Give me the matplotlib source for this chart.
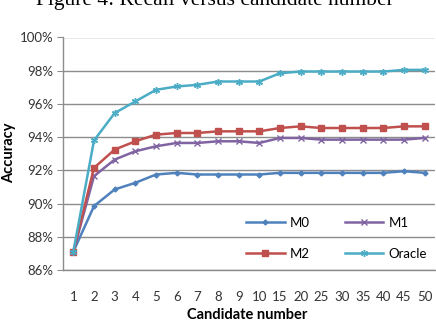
import matplotlib
matplotlib.use("Agg")
import matplotlib.pyplot as plt
from matplotlib.ticker import FuncFormatter

categories = ["1", "2", "3", "4", "5", "6", "7", "8", "9", "10",
              "15", "20", "25", "30", "35", "40", "45", "50"]
m0 = [87.1, 89.85, 90.85, 91.25, 91.75, 91.85, 91.75, 91.75, 91.75, 91.75,
      91.85, 91.85, 91.85, 91.85, 91.85, 91.85, 91.95, 91.85]
m1 = [87.1, 91.65, 92.65, 93.15, 93.45, 93.65, 93.65, 93.75, 93.75, 93.65,
      93.95, 93.95, 93.85, 93.85, 93.85, 93.85, 93.85, 93.95]
m2 = [87.1, 92.15, 93.25, 93.75, 94.15, 94.25, 94.25, 94.35, 94.35, 94.35,
      94.55, 94.65, 94.55, 94.55, 94.55, 94.55, 94.65, 94.65]
oracle = [87.1, 93.8, 95.45, 96.15, 96.85, 97.05, 97.15, 97.35, 97.35, 97.35,
          97.85, 97.95, 97.95, 97.95, 97.95, 97.95, 98.05, 98.05]
series_names = ["M0", "M1", "M2", "Oracle"]
y_ticks = [86, 88, 90, 92, 94, 96, 98, 100]

font = ["Lato", "DejaVu Sans"]
plt.rcParams['font.family'] = font
FS = 9.5

fig = plt.figure(figsize=(4.36, 3.24), dpi=100)
ax = fig.add_axes([63/436, 1 - 270/324, (435 - 63)/436, (270 - 37.5)/324])

x = list(range(len(categories)))
styles = [
    (m0, "#4F81BD", "D", 2.5),
    (m1, "#8064A2", "x", 4),
    (m2, "#C0504D", "s", 4),
    (oracle, "#4BACC6", (6, 2, 0), 5),
]
for (vals, c, mk, ms), name in zip(styles, series_names):
    ax.plot(x, vals, color=c, marker=mk, markersize=ms, linewidth=1.8,
            markeredgewidth=1.0, label=name, zorder=3)

ax.set_xlim(-0.5, len(categories) - 0.5)
ax.set_ylim(86, 100)
ax.set_yticks(y_ticks)
ax.yaxis.set_major_formatter(FuncFormatter(lambda v, p: f"{v:.0f}%"))
ax.set_xticks(x)
ax.set_xticklabels(categories)
ax.grid(axis='y', color="#8c8c8c", linewidth=1.0, zorder=0)
ax.set_axisbelow(True)
for s in ["top", "right"]:
    ax.spines[s].set_visible(False)
for s in ["left", "bottom"]:
    ax.spines[s].set_color("#8c8c8c")
    ax.spines[s].set_linewidth(1.0)
ax.tick_params(axis='y', length=4, color="#8c8c8c", labelsize=FS, labelcolor="#333333", pad=3)
ax.tick_params(axis='x', length=0, labelsize=FS, labelcolor="#333333", pad=15)

fig.text(247/436, 1 - 319/324, "Candidate number", ha="center", va="baseline",
         fontsize=10.5, fontweight="bold")
fig.text(9/436, 1 - 153/324, "Accuracy", rotation=90, ha="center", va="center",
         fontsize=10.5, fontweight="bold")

handles, labels = ax.get_legend_handles_labels()
order = [0, 2, 1, 3]
leg = ax.legend([handles[i] for i in order], [labels[i] for i in order],
                ncol=2, frameon=False, loc="lower right",
                bbox_to_anchor=(1.011, -0.008), fontsize=FS,
                handlelength=2.95, columnspacing=2.6, labelspacing=1.45,
                handletextpad=0.4)

fig.text(215/436, 1 - 5/324, "Figure 4: Recall versus candidate number",
         ha="center", va="baseline", fontsize=15.5,
         family=["Liberation Serif", "DejaVu Serif"])

fig.savefig("out.png", dpi=100)
